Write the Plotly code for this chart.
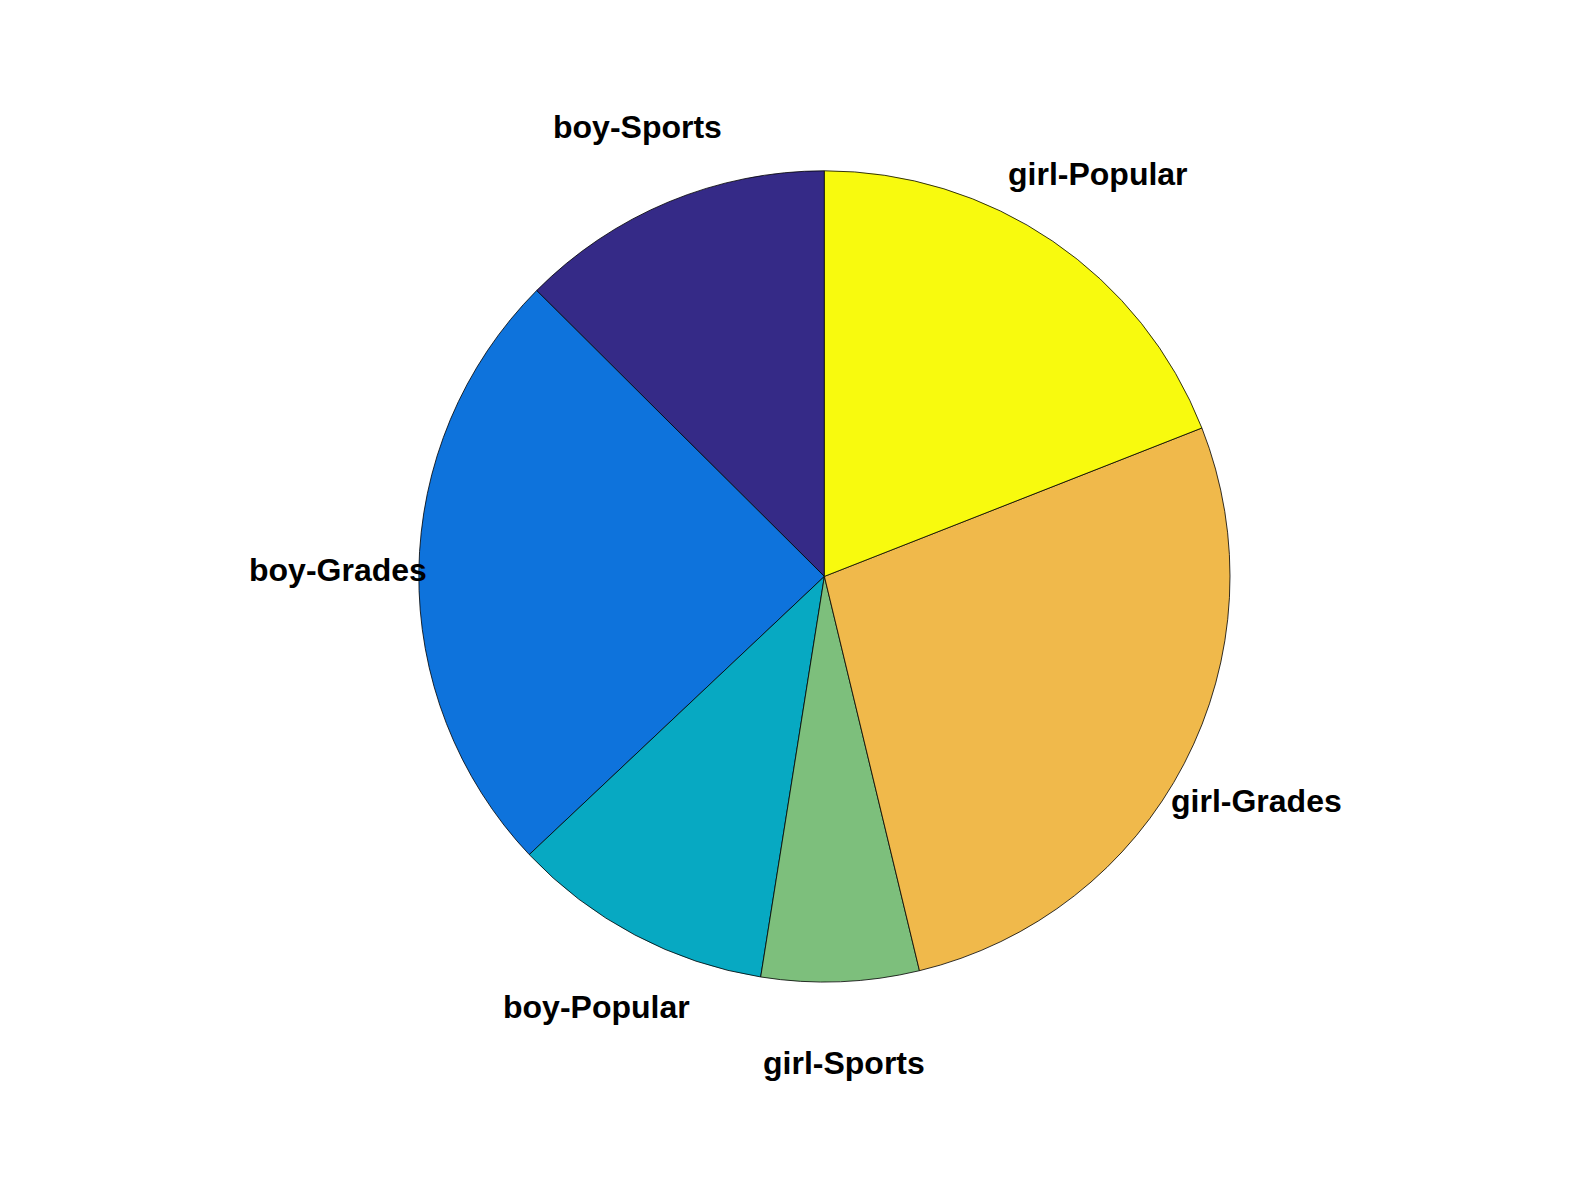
import math
import plotly.graph_objects as go

labels = ["boy-Sports", "boy-Grades", "boy-Popular", "girl-Sports", "girl-Grades", "girl-Popular"]
counts = [60, 117, 50, 30, 130, 91]
colors = ["#352a87", "#0e73dc", "#07a9c2", "#7dbf7c", "#f0b94b", "#f8fa0e"]

OFF = 8                      # default body margin of the html page
W, H = 1594 - 2 * OFF, 1196 - 2 * OFF
cx, cy, R = 824.4 - OFF, 576.4 - OFF, 405.6   # pie centre / radius in figure pixels

total = sum(counts)
fig = go.Figure(go.Pie(
    labels=labels, values=counts, sort=False, direction="counterclockwise",
    rotation=-360.0 * counts[0] / total, textinfo="none", hoverinfo="label+value",
    marker=dict(colors=colors, line=dict(color="black", width=0.8)),
    domain=dict(x=[(cx - R) / W, (cx + R) / W],
                y=[(H - cy - R) / H, (H - cy + R) / H]),
    showlegend=False,
))

cum = 0
for lab, v in zip(labels, counts):
    mid = (cum + v / 2) / total * 2 * math.pi
    cum += v
    dx = -math.sin(mid)
    dy = math.cos(mid)
    px = cx + 1.2 * R * dx
    py = cy - 1.2 * R * dy
    fig.add_annotation(x=px / W, y=(H - py) / H, xref="paper", yref="paper",
                       text="<b>" + lab + "</b>", showarrow=False,
                       xanchor="center", yanchor="middle",
                       font=dict(family="Liberation Sans, Arial, Helvetica", size=32, color="black"))

fig.update_layout(width=W, height=H, margin=dict(l=0, r=0, t=0, b=0),
                  paper_bgcolor="white", plot_bgcolor="white")
fig.write_html("out.html")
